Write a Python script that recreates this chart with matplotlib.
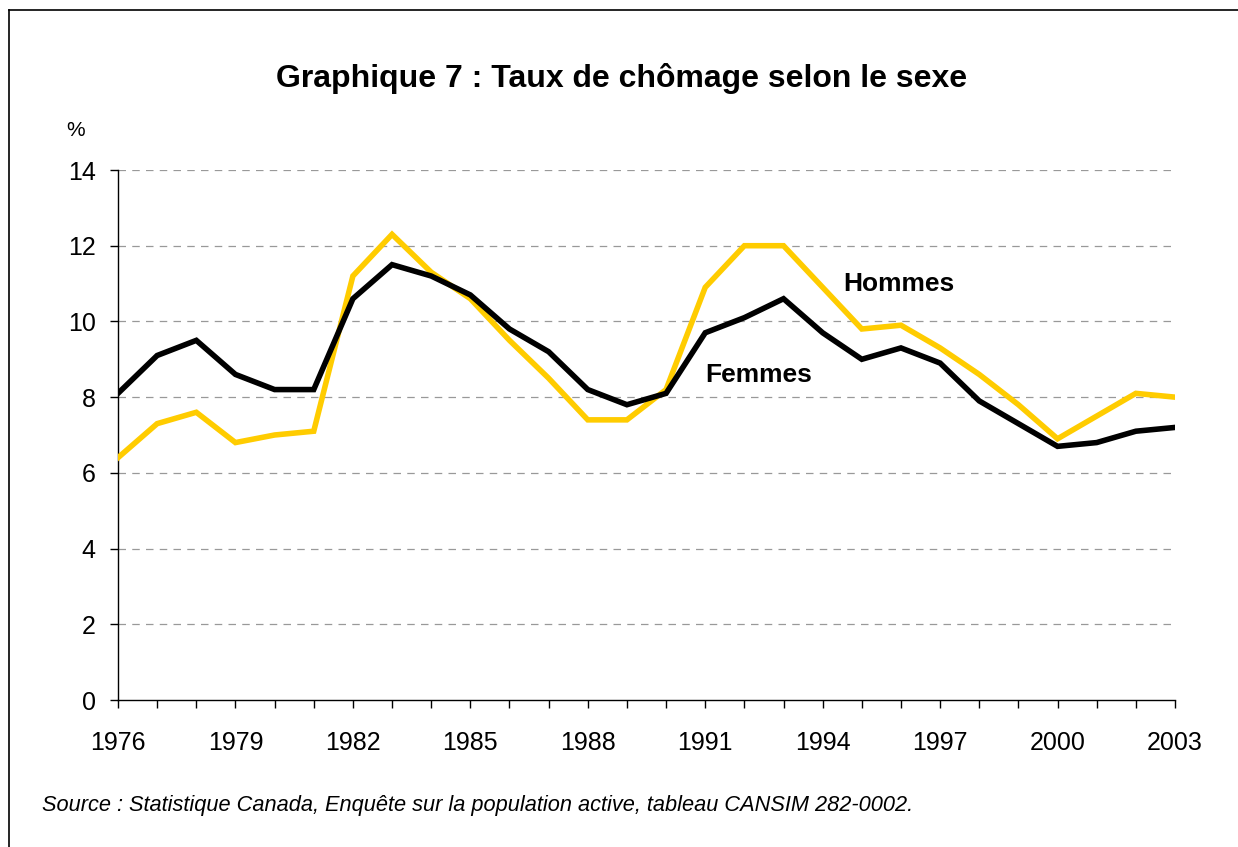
import matplotlib
matplotlib.use("Agg")
import matplotlib.pyplot as plt
from matplotlib.lines import Line2D

years = list(range(1976, 2004))
hommes = [6.4, 7.3, 7.6, 6.8, 7.0, 7.1, 11.2, 12.3, 11.3, 10.6, 9.5, 8.5, 7.4, 7.4,
          8.2, 10.9, 12.0, 12.0, 10.9, 9.8, 9.9, 9.3, 8.6, 7.8, 6.9, 7.5, 8.1, 8.0]
femmes = [8.1, 9.1, 9.5, 8.6, 8.2, 8.2, 10.6, 11.5, 11.2, 10.7, 9.8, 9.2, 8.2, 7.8,
          8.1, 9.7, 10.1, 10.6, 9.7, 9.0, 9.3, 8.9, 7.9, 7.3, 6.7, 6.8, 7.1, 7.2]
yticks = [0, 2, 4, 6, 8, 10, 12, 14]

plt.rcParams['font.family'] = ['Liberation Sans', 'DejaVu Sans']

W, H = 1238, 847
fig = plt.figure(figsize=(W / 100, H / 100), dpi=100)
ax = fig.add_axes([118 / W, 1 - 700 / H, (1175 - 118) / W, (700 - 170) / H])

# frame around the figure (left and top edges visible)
fig.add_artist(Line2D([9 / W, 9 / W], [0, 1 - 10 / H], transform=fig.transFigure, color="black", lw=1.2))
fig.add_artist(Line2D([9 / W, 1], [1 - 10 / H, 1 - 10 / H], transform=fig.transFigure, color="black", lw=1.2))

for v in yticks[1:]:
    ax.axhline(v, color="#999999", lw=0.9, ls=(0, (6, 5)), zorder=1)

ax.plot(years, hommes, color="#FFCC00", lw=4, zorder=3, solid_joinstyle="miter")
ax.plot(years, femmes, color="black", lw=4, zorder=4, solid_joinstyle="miter")

ax.set_xlim(1976, 2003)
ax.set_ylim(0, 14)
ax.set_yticks(yticks)
ax.set_xticks(years)
ax.set_xticklabels([str(y) if (y - 1976) % 3 == 0 else "" for y in years])
ax.tick_params(axis="both", direction="out", length=6, width=1, labelsize=18)
ax.tick_params(axis="x", pad=16)
ax.tick_params(axis="y", pad=10)
for s in ["top", "right"]:
    ax.spines[s].set_visible(False)
ax.spines["left"].set_linewidth(1)
ax.spines["bottom"].set_linewidth(1)

ax.text(1994.52, 11.0, "Hommes", fontsize=19, fontweight="bold", ha="left", va="center")
ax.text(1991.0, 8.58, "Femmes", fontsize=19, fontweight="bold", ha="left", va="center")

fig.text(622 / W, 1 - 78 / H, "Graphique 7 : Taux de chômage selon le sexe",
         fontsize=23, fontweight="bold", ha="center", va="center")
fig.text(76 / W, 1 - 131 / H, "%", fontsize=15, ha="center", va="center")
fig.text(42 / W, 1 - 805 / H,
         "Source : Statistique Canada, Enquête sur la population active, tableau CANSIM 282-0002.",
         fontsize=15.7, style="italic", ha="left", va="center")

fig.savefig("out.png", dpi=100)
